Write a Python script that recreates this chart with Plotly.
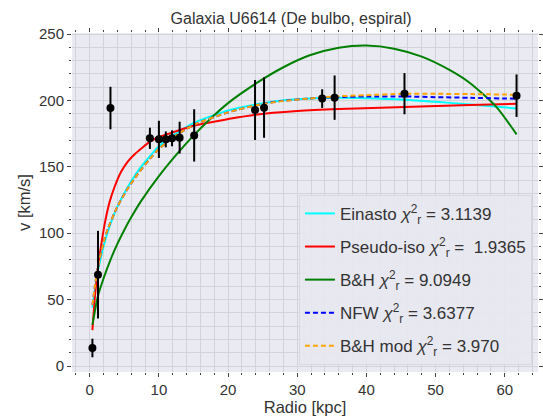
import plotly.graph_objects as go

# Observed data
r_obs = [0.39, 1.2, 3.0, 8.7, 10.0, 11.0, 11.9, 13.0, 15.1, 23.9, 25.2, 33.6, 35.4, 45.5, 61.7]
v_obs = [13.6, 68.8, 194.3, 171.5, 170.7, 170.7, 171.5, 172.0, 173.7, 192.8, 194.6, 201.4, 202.1, 205.1, 203.6]
v_err = [7, 33, 16, 8, 14, 6, 6, 12, 19.7, 22.6, 22.7, 7, 16.7, 15.5, 16]

# Model curves
r_ein = [0.4, 0.8, 1.2, 2.0, 2.6, 4.0, 5.3, 7.0, 8.7, 10.0, 12.0, 15.0, 20.0, 24.6, 27.5, 31.8, 35.4, 40.0, 45.5, 50.0, 55.0, 61.7]
v_ein = [44, 59, 72, 90, 101, 120, 133, 147, 158, 165.5, 173.5, 183, 192.5, 197.5, 199.8, 201.5, 202, 201.7, 200.6, 199, 197, 194]

r_iso = [0.39, 0.8, 1.2, 1.6, 2.2, 2.9, 3.6, 4.5, 5.5, 6.5, 7.5, 8.7, 10.0, 11.75, 15.0, 20.0, 24.0, 30.0, 36.0, 45.5, 55.0, 61.7]
v_iso = [27, 55, 74, 89, 108, 124, 135, 146, 154, 159.5, 164, 169, 172.5, 175.5, 181, 186, 189.3, 192, 193.5, 195, 196.5, 197.5]

r_bh = [0.39, 1.2, 2.0, 3.0, 4.0, 5.0, 6.0, 7.4, 10.0, 12.5, 15.0, 17.3, 20.0, 24.1, 28.0, 31.8, 36.0, 40.0, 44.0, 48.0, 52.0, 55.0, 58.8, 61.7]
v_bh = [31, 53, 66, 80, 92, 102.5, 112, 124, 143, 159, 173.5, 185.5, 198, 213, 225, 234, 239.7, 241.3, 239, 233, 223, 213, 195, 174.5]

r_nfw = [0.4, 0.8, 1.2, 2.0, 2.6, 4.0, 5.3, 7.0, 8.7, 10.0, 12.0, 15.0, 20.0, 24.6, 27.5, 31.8, 35.4, 40.0, 45.5, 50.0, 55.0, 61.7]
v_nfw = [46, 62, 75, 93, 103, 120, 132, 145, 156, 163.5, 172, 181.5, 191, 197, 199.5, 201.5, 202.5, 203, 203, 202.5, 202, 201.3]

r_bhm = [0.4, 0.8, 1.2, 2.0, 2.6, 4.0, 5.3, 7.0, 8.7, 10.0, 12.0, 15.0, 20.0, 24.6, 27.5, 31.8, 35.4, 40.0, 45.5, 50.0, 55.0, 61.7]
v_bhm = [46, 62, 75, 93, 103, 120, 132, 145, 156, 163.5, 172, 181.5, 191, 197, 199.3, 201.5, 203, 204, 205, 205, 204.8, 204.3]

labels = [
    "Einasto <i>χ</i><sup>2</sup><sub>r</sub> = 3.1139",
    "Pseudo-iso <i>χ</i><sup>2</sup><sub>r</sub> =&nbsp; 1.9365",
    "B&H <i>χ</i><sup>2</sup><sub>r</sub> = 9.0949",
    "NFW <i>χ</i><sup>2</sup><sub>r</sub> = 3.6377",
    "B&H mod <i>χ</i><sup>2</sup><sub>r</sub> = 3.970",
]

FONT = "Liberation Sans, Arial, sans-serif"
TXT = "#333333"
GRID = "#d3d3da"
BG = "#eaeaf2"

fig = go.Figure()
curves = [
    (r_ein, v_ein, "#00ffff", "solid"),
    (r_iso, v_iso, "#ff0000", "solid"),
    (r_bh, v_bh, "#008000", "solid"),
    (r_nfw, v_nfw, "#0000ff", "5px,3px"),
    (r_bhm, v_bhm, "#ffa500", "5px,3px"),
]
for i, ((rx, vy, col, dash), lab) in enumerate(zip(curves, labels)):
    fig.add_trace(go.Scatter(
        x=rx, y=vy, mode="lines", name=lab, legendgroup=f"g{i}",
        line=dict(color=col, width=2, dash=dash, shape="spline", smoothing=0.7),
    ))

fig.add_trace(go.Scatter(
    x=r_obs, y=v_obs, mode="markers", showlegend=False,
    marker=dict(color="black", size=8),
    error_y=dict(type="data", array=v_err, color="black", thickness=2, width=0),
))

axis_common = dict(
    showline=False, mirror="ticks", ticks="outside", ticklen=4, tickwidth=1,
    tickcolor="#444444", gridcolor=GRID, gridwidth=1, zeroline=False,
    tickfont=dict(family=FONT, size=15, color=TXT),
)
fig.update_xaxes(
    range=[-2.56, 64.8], dtick=10, tick0=0,
    minor=dict(dtick=2, tick0=0, showgrid=True, gridcolor=GRID, ticks="outside", ticklen=2, tickcolor="#444444"),
    title=dict(text="Radio [kpc]", font=dict(family=FONT, size=16.5, color=TXT), standoff=2),
    **axis_common,
)
fig.update_yaxes(
    range=[-4.5, 250.8], dtick=50, tick0=0,
    minor=dict(dtick=10, tick0=0, showgrid=True, gridcolor=GRID, ticks="outside", ticklen=2, tickcolor="#444444"),
    title=dict(text="v [km/s]", font=dict(family=FONT, size=16.5, color=TXT), standoff=4),
    **axis_common,
)

fig.update_layout(
    width=543, height=419,
    margin=dict(l=72, r=5, t=33, b=47),
    paper_bgcolor="white", plot_bgcolor=BG,
    title=dict(text="Galaxia U6614 (De bulbo, espiral)", x=0.536, xanchor="center",
               y=0.955, yanchor="middle", font=dict(family=FONT, size=16, color=TXT)),
    legend=dict(
        x=0.987, y=0.021, xanchor="right", yanchor="bottom",
        bgcolor="rgba(232,232,240,0.9)", bordercolor="#d8d8e0", borderwidth=1,
        font=dict(family=FONT, size=17, color=TXT), tracegroupgap=8,
        itemwidth=30,
    ),
    showlegend=True,
)

fig.write_html("out.html")
